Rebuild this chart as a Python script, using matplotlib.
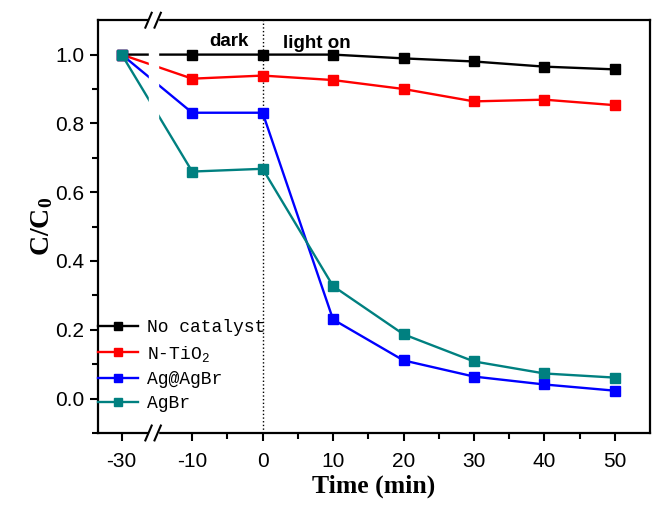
import matplotlib
matplotlib.use('Agg')
import matplotlib.pyplot as plt
from matplotlib import rcParams

rcParams['font.family'] = ['Liberation Sans']
rcParams['mathtext.fontset'] = 'custom'
rcParams['mathtext.rm'] = 'Liberation Mono'
rcParams['mathtext.bf'] = 'Liberation Serif:bold'

# data
time = [-30, -10, 0, 10, 20, 30, 40, 50]
no_catalyst = [1.0, 1.0, 1.0, 1.0, 0.989, 0.980, 0.965, 0.957]
n_tio2 = [1.0, 0.930, 0.939, 0.926, 0.900, 0.864, 0.869, 0.853]
ag_agbr = [1.0, 0.831, 0.831, 0.230, 0.111, 0.064, 0.041, 0.023]
agbr = [1.0, 0.660, 0.668, 0.327, 0.187, 0.108, 0.073, 0.061]
names = ['No catalyst', 'N-TiO$_2$', 'Ag@AgBr', 'AgBr']
colors = ['black', '#ff0000', '#0000ff', '#008080']
x_ticks = [-30, -10, 0, 10, 20, 30, 40, 50]


def pos(t):
    # axis is broken between -30 and -10
    return t + 10 if t < -20 else t


fig = plt.figure(figsize=(6.52, 5.05), dpi=100)
ax = fig.add_axes([0.150, 0.1426, 0.847, 0.8174])

xs = [pos(t) for t in time]
for y, name, c in zip([no_catalyst, n_tio2, ag_agbr, agbr], names, colors):
    ax.plot(xs, y, color=c, lw=1.7, marker='s', ms=6.5, label=name, zorder=2)

ax.axvline(0, color='black', ls=':', lw=1.0, zorder=1)

ax.set_xlim(-23.4, 55)
ax.set_ylim(-0.1, 1.1)
ax.set_xticks([pos(t) for t in x_ticks])
ax.set_xticklabels([str(t) for t in x_ticks])
ax.set_xticks([-5, 5, 15, 25, 35, 45], minor=True)
ax.set_yticks([0.0, 0.2, 0.4, 0.6, 0.8, 1.0])
ax.set_yticklabels(['0.0', '0.2', '0.4', '0.6', '0.8', '1.0'])
ax.set_yticks([-0.1, 0.1, 0.3, 0.5, 0.7, 0.9], minor=True)
ax.tick_params(which='both', direction='out', width=1.5, labelsize=15)
ax.tick_params(which='major', length=6)
ax.tick_params(which='minor', length=4)
ax.tick_params(axis='x', pad=8)
for s in ax.spines.values():
    s.set_linewidth(1.6)

# axis break
gap = (-16.2, -14.9)
ax.axvspan(gap[0], gap[1], ymin=-0.02, ymax=1.02, color='white', zorder=3, clip_on=False)
for yb in (0, 1):
    for xb in gap:
        ax.plot([xb - 0.45, xb + 0.45], [yb - 0.018, yb + 0.018], color='black', lw=1.5,
                transform=ax.get_xaxis_transform(), clip_on=False, zorder=4)

ax.text(-4.8, 1.037, 'dark', ha='center', va='center', fontsize=13.5, fontweight='bold')
ax.text(7.7, 1.033, 'light on', ha='center', va='center', fontsize=13.5, fontweight='bold')

ax.set_xlabel('Time (min)', fontsize=18.5, fontweight='bold', family='Liberation Serif', labelpad=2)
ax.set_ylabel(r'$\mathbf{C/C_0}$', fontsize=20, labelpad=0)

leg = ax.legend(loc='upper left', bbox_to_anchor=(0.0, 0.275), frameon=False,
                prop={'family': 'Liberation Mono', 'size': 13}, handlelength=2.2,
                handletextpad=0.5, borderaxespad=0, borderpad=0, labelspacing=0.4,
                markerscale=0.9)

plt.savefig('out.png', dpi=100)
